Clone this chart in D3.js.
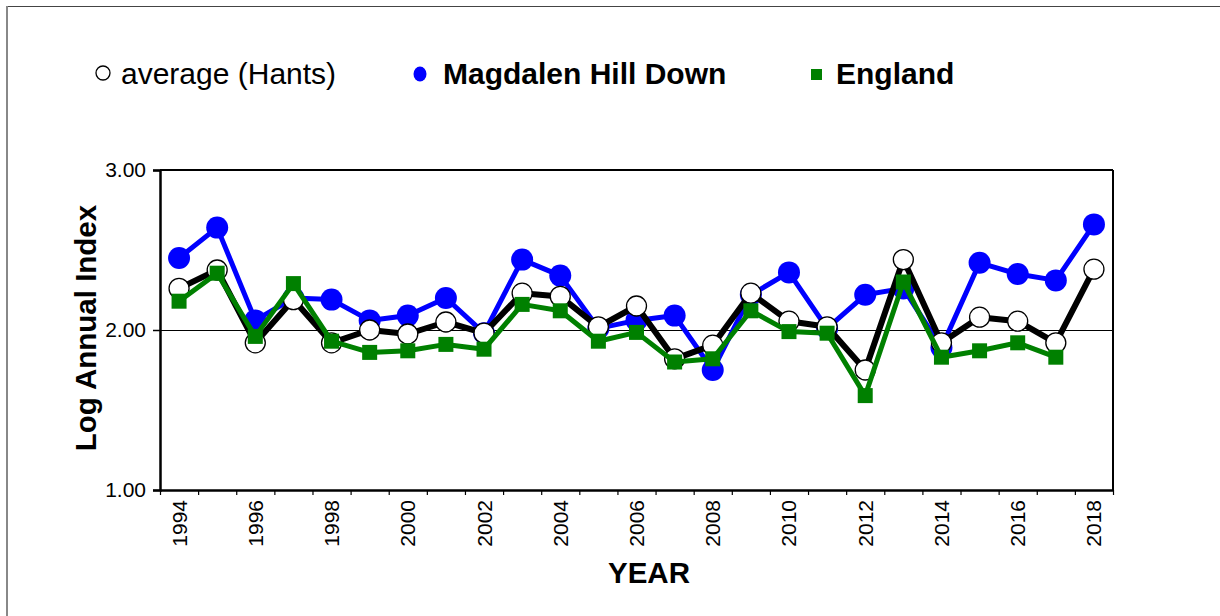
<!DOCTYPE html>
<html>
<head>
<meta charset="utf-8">
<script src="https://cdn.jsdelivr.net/npm/d3@7"></script>
<style>
  html, body { margin: 0; padding: 0; background: #fff; }
  svg { display: block; font-family: "Liberation Sans", Arial, sans-serif; }
</style>
</head>
<body>
<svg id="chart" width="1220" height="616"></svg>
<script>
const years = d3.range(1994, 2019);
const yearTickLabels = [1994, 1996, 1998, 2000, 2002, 2004, 2006, 2008, 2010, 2012, 2014, 2016, 2018];
const yTickValues = [1, 2, 3];

const magdalen = [2.45, 2.64, 2.06, 2.20, 2.19, 2.06, 2.09, 2.20, 1.98, 2.44, 2.34, 2.01, 2.06, 2.09, 1.75, 2.22, 2.36, 2.01, 2.22, 2.26, 1.89, 2.42, 2.35, 2.31, 2.66];
const hants    = [2.26, 2.375, 1.92, 2.19, 1.92, 2.00, 1.975, 2.05, 1.98, 2.23, 2.21, 2.02, 2.15, 1.82, 1.905, 2.23, 2.055, 2.02, 1.75, 2.44, 1.92, 2.08, 2.055, 1.92, 2.38];
const england  = [2.18, 2.355, 1.96, 2.29, 1.93, 1.86, 1.87, 1.91, 1.88, 2.16, 2.12, 1.93, 1.985, 1.80, 1.82, 2.12, 1.99, 1.98, 1.59, 2.30, 1.83, 1.87, 1.92, 1.83, null];

const svg = d3.select("#chart");
const L = 160, R = 1113, T = 170, B = 490;

// outer frame (only top and left visible)
svg.append("line").attr("x1", 6).attr("x2", 1220).attr("y1", 6.5).attr("y2", 6.5).attr("stroke", "#444").attr("stroke-width", 1.2);
svg.append("line").attr("x1", 7).attr("x2", 7).attr("y1", 6).attr("y2", 616).attr("stroke", "#888").attr("stroke-width", 2);

const x = d3.scaleBand().domain(years).range([L, R]).padding(0);
const y = d3.scaleLinear().domain([1, 3]).range([B, T]);
const cx = d => x(d) + x.bandwidth() / 2;

// gridline at 2.00
svg.append("line").attr("x1", L).attr("x2", R).attr("y1", y(2) + 0.5).attr("y2", y(2) + 0.5).attr("stroke", "#000").attr("stroke-width", 1);

// plot border top & right
svg.append("line").attr("x1", L).attr("x2", R).attr("y1", T).attr("y2", T).attr("stroke", "#000").attr("stroke-width", 2);
svg.append("line").attr("x1", R).attr("x2", R).attr("y1", T).attr("y2", B).attr("stroke", "#000").attr("stroke-width", 2);

// y axis
const yAxis = d3.axisLeft(y).tickValues(yTickValues).tickFormat(d3.format(".2f")).tickSize(7).tickPadding(7);
const gy = svg.append("g").attr("transform", `translate(${L},0)`).call(yAxis);
gy.select(".domain").attr("stroke-width", 2.5);
gy.selectAll(".tick line").attr("stroke-width", 1.5);
gy.selectAll("text").attr("font-size", 21).attr("fill", "#000").attr("font-family", "Liberation Sans, Arial, sans-serif");

// x axis: ticks at band boundaries
const xb = d3.scaleLinear().domain([0, years.length]).range([L, R]);
const xAxis = d3.axisBottom(xb).tickValues(d3.range(0, years.length + 1)).tickFormat("").tickSize(5).tickSizeOuter(0);
const gx = svg.append("g").attr("transform", `translate(0,${B})`).call(xAxis);
gx.select(".domain").attr("stroke-width", 2.5);
gx.selectAll(".tick line").attr("stroke-width", 1.2);

svg.append("g").selectAll("text").data(yearTickLabels).join("text")
  .attr("transform", d => `translate(${cx(d) + 7.5},${B + 10}) rotate(-90)`)
  .attr("text-anchor", "end")
  .attr("font-size", 21)
  .text(d => d);

// axis titles
svg.append("text").attr("x", 649).attr("y", 583).attr("text-anchor", "middle")
  .attr("font-size", 29.5).attr("font-weight", "bold").text("YEAR");
svg.append("text").attr("transform", `translate(96,${(T + B) / 2 - 2}) rotate(-90)`).attr("text-anchor", "middle")
  .attr("font-size", 29.5).attr("font-weight", "bold").text("Log Annual Index");

// series
const line = d3.line().defined(d => d[1] != null).x(d => cx(d[0])).y(d => y(d[1]));
function pairs(arr) { return years.map((yr, i) => [yr, arr[i]]); }

// Magdalen Hill Down (blue)
svg.append("path").datum(pairs(magdalen)).attr("d", line).attr("fill", "none").attr("stroke", "#0000ff").attr("stroke-width", 5).attr("stroke-linejoin", "round");
svg.append("g").selectAll("circle").data(pairs(magdalen)).join("circle")
  .attr("cx", d => cx(d[0])).attr("cy", d => y(d[1])).attr("r", 11).attr("fill", "#0000ff");

// average (Hants) (black line, white circles)
svg.append("path").datum(pairs(hants)).attr("d", line).attr("fill", "none").attr("stroke", "#000").attr("stroke-width", 6).attr("stroke-linejoin", "round");
svg.append("g").selectAll("circle").data(pairs(hants)).join("circle")
  .attr("cx", d => cx(d[0])).attr("cy", d => y(d[1])).attr("r", 10).attr("fill", "#fff").attr("stroke", "#000").attr("stroke-width", 1.3);

// England (green squares)
const engPts = pairs(england).filter(d => d[1] != null);
svg.append("path").datum(pairs(england)).attr("d", line).attr("fill", "none").attr("stroke", "#008000").attr("stroke-width", 5).attr("stroke-linejoin", "round");
svg.append("g").selectAll("rect").data(engPts).join("rect")
  .attr("x", d => cx(d[0]) - 7.5).attr("y", d => y(d[1]) - 7.5).attr("width", 15).attr("height", 15).attr("fill", "#008000");

// legend
const lg = svg.append("g");
lg.append("circle").attr("cx", 103).attr("cy", 73).attr("r", 7).attr("fill", "#fff").attr("stroke", "#000").attr("stroke-width", 1.3);
lg.append("text").attr("x", 121).attr("y", 84).attr("font-size", 30).text("average (Hants)");
lg.append("ellipse").attr("cx", 420).attr("cy", 74).attr("rx", 6.5).attr("ry", 7.5).attr("fill", "#0000ff");
lg.append("text").attr("x", 443).attr("y", 84).attr("font-size", 30).attr("font-weight", "bold").text("Magdalen Hill Down");
lg.append("rect").attr("x", 811).attr("y", 69).attr("width", 11).attr("height", 11).attr("fill", "#008000");
lg.append("text").attr("x", 836).attr("y", 84).attr("font-size", 30).attr("font-weight", "bold").text("England");
</script>
</body>
</html>
